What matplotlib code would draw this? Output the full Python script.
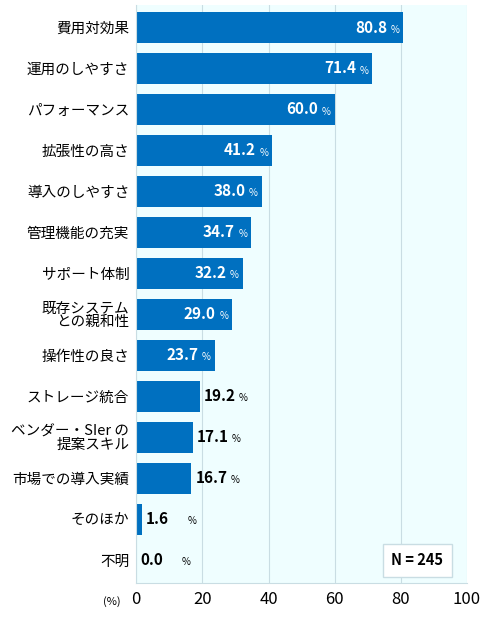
import matplotlib
matplotlib.use("Agg")
import matplotlib.pyplot as plt
from matplotlib.transforms import offset_copy

plt.rcParams['font.family'] = ['Noto Sans CJK JP', 'DejaVu Sans']

categories = ["費用対効果", "運用のしやすさ", "パフォーマンス", "拡張性の高さ", "導入のしやすさ",
              "管理機能の充実", "サポート体制", "既存システム\nとの親和性", "操作性の良さ",
              "ストレージ統合", "ベンダー・SIer の\n提案スキル", "市場での導入実績", "そのほか", "不明"]
values = [80.8, 71.4, 60.0, 41.2, 38.0, 34.7, 32.2, 29.0, 23.7, 19.2, 17.1, 16.7, 1.6, 0.0]
xticks = [0, 20, 40, 60, 80, 100]

fig = plt.figure(figsize=(4.9, 6.22), dpi=100)
ax = fig.add_axes([0.278, 0.063, 0.675, 0.929])
ax.set_facecolor("#effeff")

y = list(range(len(values)))
ax.barh(y, values, height=0.77, color="#0070c0", zorder=2)
ax.set_ylim(len(values) - 0.45, -0.55)
ax.set_xlim(0, 100)
ax.set_xticks(xticks)
ax.tick_params(axis='x', length=0, labelsize=12, pad=6)
ax.tick_params(axis='y', length=0, labelsize=10.5, pad=5)
ax.set_yticks(y)
ax.set_yticklabels(categories, linespacing=0.9)
ax.grid(axis='x', color="#c9dde3", lw=0.8, zorder=0)
for s in ax.spines.values():
    s.set_visible(False)
ax.spines['left'].set_visible(True)
ax.spines['left'].set_color("#c9dde3")
ax.spines['bottom'].set_visible(True)
ax.spines['bottom'].set_color("#c9dde3")

for i, v in enumerate(values):
    if v >= 23:
        # "%" at the bar end, number just before it
        ax.text(v - 1.2, i + 0.05, "%", ha='right', va='center', color='white',
                fontsize=7, zorder=3)
        tr = offset_copy(ax.transData, fig=fig, x=-9, y=0, units='points')
        ax.text(v - 1.2, i, f"{v:.1f}", ha='right', va='center', color='white',
                fontsize=11, fontweight='bold', zorder=3, transform=tr)
    else:
        ax.text(v + 1.2, i, f"{v:.1f}", ha='left', va='center', color='black',
                fontsize=11, fontweight='bold', zorder=3)
        gap = 25 if v >= 5 else 30
        tr = offset_copy(ax.transData, fig=fig, x=gap, y=0, units='points')
        ax.text(v + 1.2, i + 0.05, "%", ha='left', va='center', color='black',
                fontsize=7, zorder=3, transform=tr)

ax.text(85, 13, "N = 245", ha='center', va='center', fontsize=10.5, fontweight='bold',
        bbox=dict(facecolor='white', edgecolor='#c9dde3', boxstyle='square,pad=0.6'), zorder=4)
fig.text(0.228, 0.033, "(%)", ha='center', va='center', fontsize=8)

fig.savefig("out.png", dpi=100)
